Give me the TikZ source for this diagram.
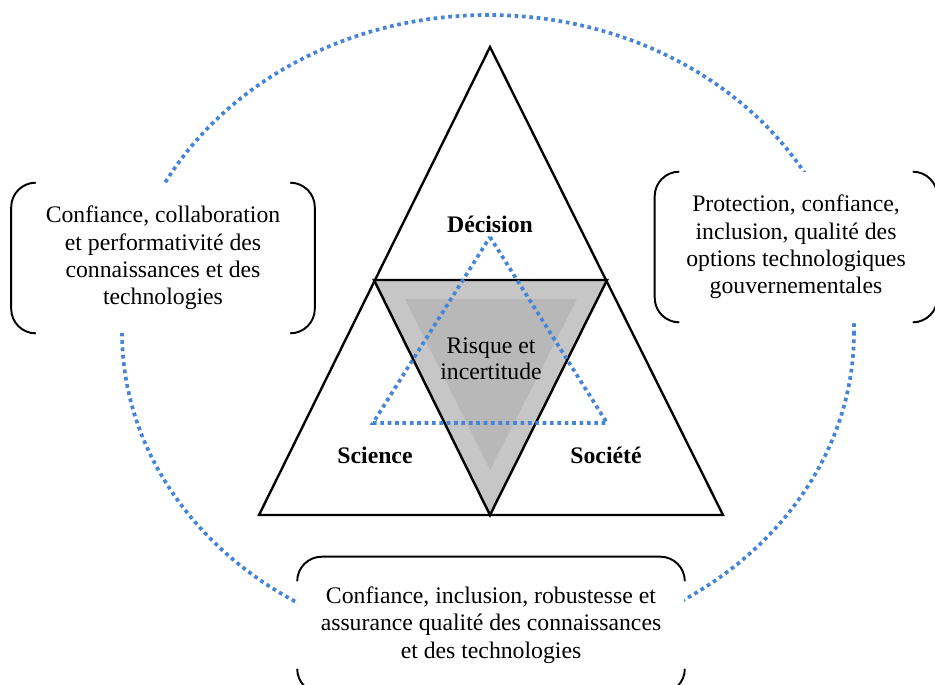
\documentclass[tikz,border=0pt]{standalone}
\usepackage{fontspec}
\setmainfont{Liberation Serif}
\definecolor{dotblue}{RGB}{70,132,216}
\definecolor{bandgray}{RGB}{198,198,198}
\definecolor{coregray}{RGB}{184,184,184}
\tikzset{
    dotline/.style={dotblue, line width=2.1pt, dash pattern=on 2.1pt off 2.1pt},
    bracketbox/.style={fill=white, inner sep=0pt, align=center,
        font=\fontsize{13.5}{15.6}\selectfont},
    bracket/.style={line width=1.1pt, rounded corners=14pt},
    polename/.style={font=\fontsize{13.5}{15.6}\selectfont\bfseries},
    innertext/.style={align=center, font=\fontsize{13.5}{15}\selectfont}
}

\begin{document}
\begin{tikzpicture}[x=0.02cm, y=-0.02cm]
    \useasboundingbox (0,0) rectangle (935,684);

    % outer dotted ring, hidden behind the three boxes
    \draw[dotline] (488,332) ellipse [x radius=366, y radius=317];

    \node[bracketbox, minimum width=6.06cm, minimum height=3cm] (LEFT) at (163,258)
        {Confiance, collaboration\\et performativité des\\connaissances et des\\technologies};
    \node[bracketbox, minimum width=5.64cm, minimum height=3cm] (RIGHT) at (796,247)
        {Protection, confiance,\\inclusion, qualité des\\options technologiques\\gouvernementales};
    \node[bracketbox, minimum width=7.74cm, minimum height=2.72cm] (BOTTOM) at (491,625)
        {Confiance, inclusion, robustesse et\\assurance qualité des connaissances\\et des technologies};

    \draw[bracket] ([xshift=14pt]LEFT.north west) -- (LEFT.north west) -- (LEFT.south west) -- ([xshift=14pt]LEFT.south west);
    \draw[bracket] ([xshift=-14pt]LEFT.north east) -- (LEFT.north east) -- (LEFT.south east) -- ([xshift=-14pt]LEFT.south east);
    \draw[bracket] ([xshift=14pt]RIGHT.north west) -- (RIGHT.north west) -- (RIGHT.south west) -- ([xshift=14pt]RIGHT.south west);
    \draw[bracket] ([xshift=-14pt]RIGHT.north east) -- (RIGHT.north east) -- (RIGHT.south east) -- ([xshift=-14pt]RIGHT.south east);
    \draw[bracket] ([yshift=-14pt]BOTTOM.north west) -- (BOTTOM.north west) -- (BOTTOM.north east) -- ([yshift=-14pt]BOTTOM.north east);
    \draw[bracket] ([yshift=14pt]BOTTOM.south west) -- (BOTTOM.south west) -- (BOTTOM.south east) -- ([yshift=14pt]BOTTOM.south east);

    \coordinate (TOP) at (490,47);
    \coordinate (BL) at (259,515);
    \coordinate (BR) at (723,515);
    \coordinate (ML) at (374,280);
    \coordinate (MR) at (607,280);
    \coordinate (BM) at (490,515);

    % grey core with its lighter rim
    \fill[bandgray] (ML) -- (MR) -- (BM) -- cycle;
    \fill[coregray] (405,299) -- (577,299) -- (490,470) -- cycle;

    \draw[line width=1.35pt, line join=miter] (TOP) -- (BR) -- (BL) -- cycle;
    \draw[line width=1.4pt] (ML) -- (MR) -- (BM) -- cycle;

    \draw[dotline] (490,237) -- (607,423) -- (373,423) -- cycle;

    \node[polename] (DEC) at (490,224) {Décision};
    \node[polename] (SCI) at (375,455) {Science};
    \node[polename] (SOC) at (606,455) {Société};
    \node[innertext] (RISK) at (491,359) {Risque et\\incertitude};
\end{tikzpicture}
\end{document}
